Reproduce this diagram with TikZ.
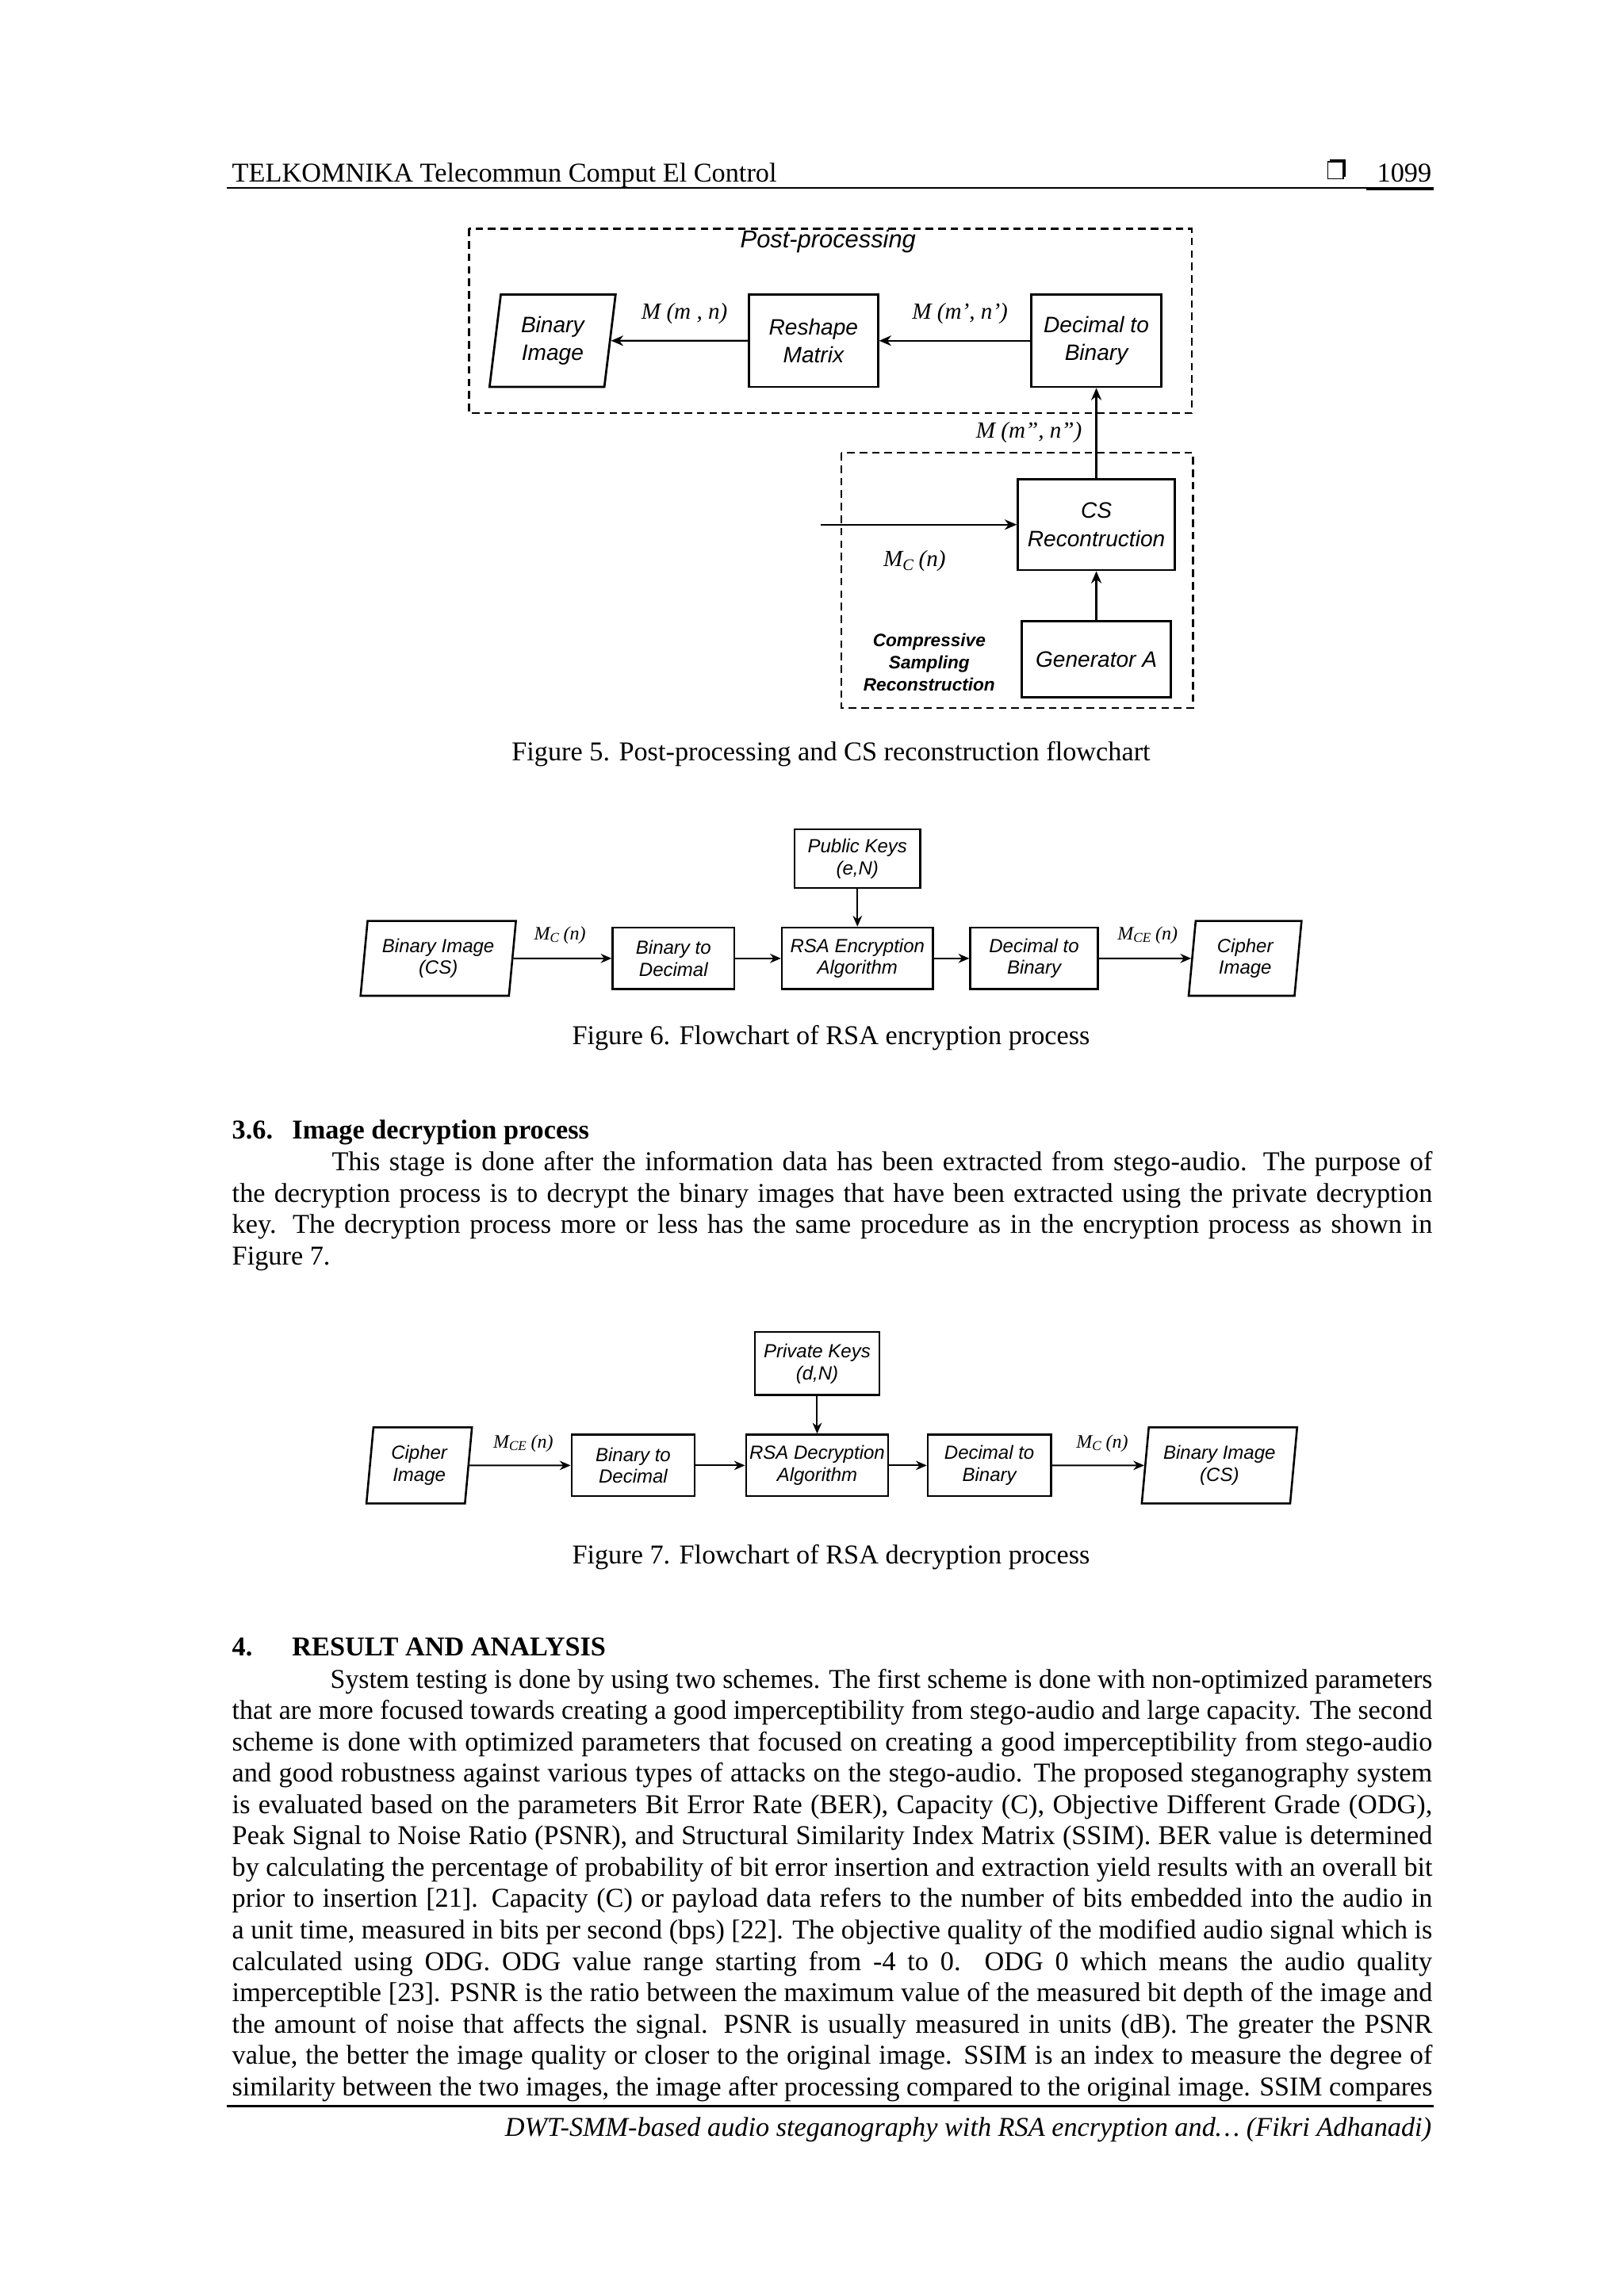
\documentclass[tikz,border=0pt]{standalone}
\usepackage{fontspec}
\setmainfont{Liberation Serif}
\setsansfont{Liberation Sans}
\usetikzlibrary{arrows.meta,shapes.geometric}
\newcommand\dpx{0.18953mm}
\newlength\tw \setlength\tw{155.2mm}
\newlength\lnw
\newcommand\jl[1]{\settowidth\lnw{#1}\ifdim\lnw>\tw\hbox{\resizebox{\tw}{\height}{#1}}\else\hbox to\tw{#1}\fi}
\tikzset{
  blk/.style={draw, line width=0.8pt, align=center, inner sep=0pt, font=\sffamily\itshape\fontsize{8.2}{10.3}\selectfont},
  blksm/.style={draw, line width=0.75pt, align=center, inner sep=0pt, font=\sffamily\itshape\fontsize{7}{8.1}\selectfont},
  sz/.style 2 args={minimum width=#1*\dpx, minimum height=#2*\dpx},
  slant/.style 2 args={trapezium, trapezium left angle=#1, trapezium right angle=#2, trapezium stretches body},
  arr/.style={-{Stealth[length=4.5pt,width=3.8pt]}, line width=0.65pt},
  arrs/.style={-{Stealth[length=4pt,width=3.4pt]}, line width=0.6pt},
  grp/.style={line width=0.7pt, dash pattern=on 2.8pt off 1.8pt},
  lbl/.style={inner sep=0pt, font=\itshape\fontsize{8.5}{10}\selectfont},
  lbls/.style={inner sep=0pt, font=\itshape\fontsize{7}{8}\selectfont},
  txt/.style={anchor=base west, inner sep=0pt, font=\fontsize{10}{11.53}\selectfont},
  capt/.style={anchor=base, inner sep=0pt, font=\fontsize{10}{12}\selectfont}
}
\begin{document}
\begin{tikzpicture}[x=\dpx, y=-\dpx]
  %%%%% PAGE %%%%%
  \useasboundingbox (0,0) rectangle (1108,1566.8);
  \fill[white] (0,0) rectangle (1108,1566.8);

  % header
  \node[txt] (head) at (158,124) {TELKOMNIKA Telecommun Comput El Control};
  \fill (907.5,109) rectangle (918,120.5);
  \draw[fill=white, line width=0.5pt] (906,110.5) rectangle (916.5,122);
  \node[txt, anchor=base east] (pageno) at (977,124) {1099};
  \draw[line width=0.6pt] (155,128) -- (978,128);
  \draw[line width=0.9pt] (932,129) -- (978,129);

  %%%%% FIGURE 5 %%%%%
  \draw[grp] (320,156) rectangle (813,282);
  \node[font=\sffamily\itshape\fontsize{9}{10}\selectfont, inner sep=0pt] (pptitle) at (565,165) {Post-processing};

  \node[blk, slant={77}{103}, sz={86}{63}] (binimg) at (377,232.5) {Binary\\Image};
  \node[blk, sz={88}{63}] (resh) at (555,232.5) {Reshape\\Matrix};
  \node[blk, sz={89}{63}] (dec) at (748,232.5) {Decimal to\\Binary};

  \draw[arr] (resh) -- (binimg);
  \draw[arr] (dec) -- (resh);
  \node[lbl] (lmn) at (467,214) {M (m , n)};
  \node[lbl] (lmn1) at (655,214) {M (m', n')};

  \draw[grp] (574,309) rectangle (814,483);
  \node[blk, sz={107}{62}] (csr) at (748,358) {CS\\Recontruction};
  \node[blk, sz={102}{52}] (gen) at (748,450) {Generator A};
  \coordinate (mcin) at (560,358);

  \draw[arr] (csr.north) -- (dec.south);
  \draw[arr] (gen) -- (csr);
  \draw[arr] (mcin) -- (csr);
  \node[lbl] (lmn2) at (702,295) {M (m'', n'')};
  \node[lbl] (lmc5) at (624,383) {M\textsubscript{C}\,(n)};
  \node[align=center, inner sep=0pt, font=\sffamily\bfseries\itshape\fontsize{6.6}{8.1}\selectfont] (cslbl) at (634,452) {Compressive\\Sampling\\Reconstruction};

  \node[capt] (cap5) at (567,519) {Figure 5. Post-processing and CS reconstruction flowchart};

  %%%%% FIGURE 6 %%%%%
  \node[blksm, sz={86}{40}] (pub) at (585,586) {Public Keys\\(e,N)};
  \node[blksm, slant={80}{100}, sz={106}{51}] (bin6) at (299,654) {Binary Image\\(CS)};
  \node[blksm, sz={83}{42}] (btd6) at (459.5,654) {Binary to\\Decimal};
  \node[blksm, sz={103}{42}] (rsa6) at (585,654) {RSA Encryption\\Algorithm};
  \node[blksm, sz={87}{42}] (dtb6) at (705.5,654) {Decimal to\\Binary};
  \node[blksm, slant={80}{100}, sz={77}{51}] (ciph6) at (849.5,654) {Cipher\\Image};

  \draw[arrs] (pub) -- (rsa6);
  \draw[arrs] (bin6) -- (btd6);
  \draw[arrs] (btd6) -- (rsa6);
  \draw[arrs] (rsa6) -- (dtb6);
  \draw[arrs] (dtb6) -- (ciph6);
  \node[lbls] (lmc6) at (382,638) {M\textsubscript{C}\,(n)};
  \node[lbls] (lmce6) at (783,638) {M\textsubscript{CE}\,(n)};

  \node[capt] (cap6) at (567,713) {Figure 6. Flowchart of RSA encryption process};

  %%%%% SECTION 3.6 %%%%%
  \node[txt, font=\bfseries\fontsize{10}{11.53}\selectfont] (sec36) at (158,777) {\makebox[7.77mm][l]{3.6.}Image decryption process};
  \node[txt] (par36) at (158,799) {\vtop{\baselineskip=11.53pt
    \jl{\hspace*{12.9mm}This stage is done after the information data has been extracted from stego-audio. The purpose of}
    \jl{the decryption process is to decrypt the binary images that have been extracted using the private decryption}
    \jl{key. The decryption process more or less has the same procedure as in the encryption process as shown in}
    \hbox{Figure 7.}}};

  %%%%% FIGURE 7 %%%%%
  \node[blksm, sz={85}{43}] (priv) at (557.5,930.5) {Private Keys\\(d,N)};
  \node[blksm, slant={80}{100}, sz={72}{52}] (ciph7) at (286,1000) {Cipher\\Image};
  \node[blksm, sz={84}{42}] (btd7) at (432,1000) {Binary to\\Decimal};
  \node[blksm, sz={97}{42}] (rsa7) at (557.5,1000) {RSA Decryption\\Algorithm};
  \node[blksm, sz={84}{42}] (dtb7) at (675,1000) {Decimal to\\Binary};
  \node[blksm, slant={80}{100}, sz={106}{52}] (bin7) at (832,1000) {Binary Image\\(CS)};

  \draw[arrs] (priv) -- (rsa7);
  \draw[arrs] (ciph7) -- (btd7);
  \draw[arrs] (btd7) -- (rsa7);
  \draw[arrs] (rsa7) -- (dtb7);
  \draw[arrs] (dtb7) -- (bin7);
  \node[lbls] (lmce7) at (357,985) {M\textsubscript{CE}\,(n)};
  \node[lbls] (lmc7) at (752,985) {M\textsubscript{C}\,(n)};

  \node[capt] (cap7) at (567,1067) {Figure 7. Flowchart of RSA decryption process};

  %%%%% SECTION 4 %%%%%
  \node[txt, font=\bfseries\fontsize{10}{11.53}\selectfont] (sec4) at (158,1130) {\makebox[7.77mm][l]{4.}RESULT AND ANALYSIS};
  \node[txt] (par4) at (158,1152) {\vtop{\baselineskip=11.53pt
    \jl{\hspace*{12.9mm}System testing is done by using two schemes. The first scheme is done with non-optimized parameters}
    \jl{that are more focused towards creating a good imperceptibility from stego-audio and large capacity. The second}
    \jl{scheme is done with optimized parameters that focused on creating a good imperceptibility from stego-audio}
    \jl{and good robustness against various types of attacks on the stego-audio. The proposed steganography system}
    \jl{is evaluated based on the parameters Bit Error Rate (BER), Capacity (C), Objective Different Grade (ODG),}
    \jl{Peak Signal to Noise Ratio (PSNR), and Structural Similarity Index Matrix (SSIM). BER value is determined}
    \jl{by calculating the percentage of probability of bit error insertion and extraction yield results with an overall bit}
    \jl{prior to insertion [21]. Capacity (C) or payload data refers to the number of bits embedded into the audio in}
    \jl{a unit time, measured in bits per second (bps) [22]. The objective quality of the modified audio signal which is}
    \jl{calculated using ODG. ODG value range starting from -4 to 0. ODG 0 which means the audio quality}
    \jl{imperceptible [23]. PSNR is the ratio between the maximum value of the measured bit depth of the image and}
    \jl{the amount of noise that affects the signal. PSNR is usually measured in units (dB). The greater the PSNR}
    \jl{value, the better the image quality or closer to the original image. SSIM is an index to measure the degree of}
    \jl{similarity between the two images, the image after processing compared to the original image. SSIM compares}}};

  % footer
  \draw[line width=0.9pt] (155,1437) -- (978,1437);
  \node[txt, anchor=base east, font=\itshape\fontsize{10}{12}\selectfont] (foot) at (977,1458) {DWT-SMM-based audio steganography with RSA encryption and\ldots\ (Fikri Adhanadi)};
  %%%%% END %%%%%
\end{tikzpicture}
\end{document}
